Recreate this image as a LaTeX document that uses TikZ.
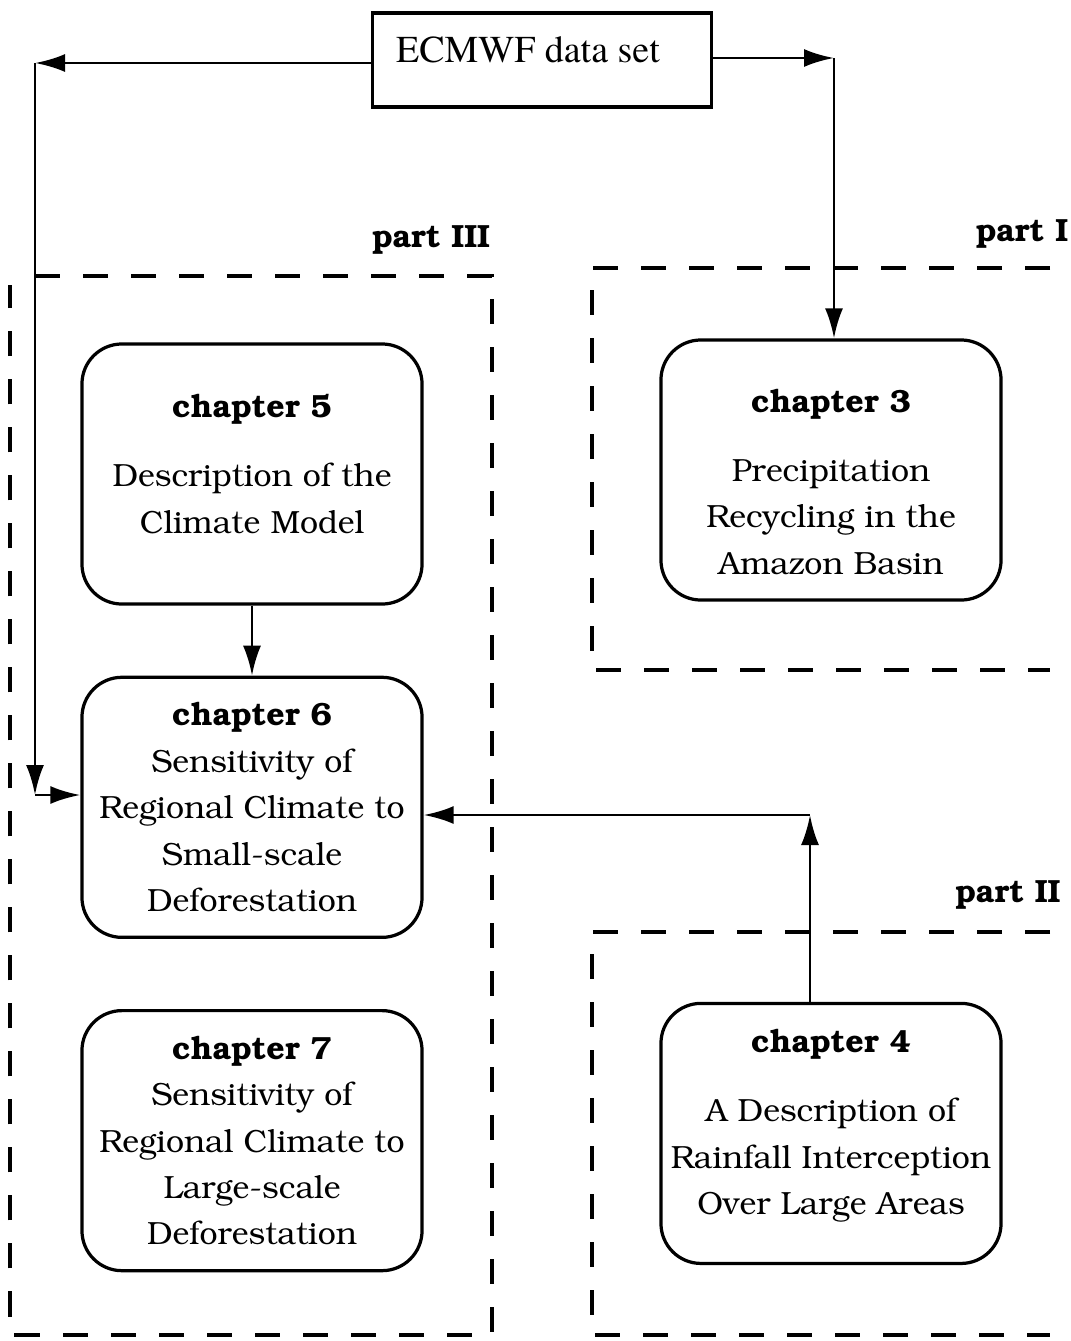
\documentclass[tikz,border=0pt]{standalone}
\usepackage[T1]{fontenc}
\usepackage{bookman}
\usetikzlibrary{positioning,arrows.meta}
\tikzstyle{every node}=[font=\fontsize{22.8}{33}\selectfont]
\tikzstyle{block} = [rectangle, rounded corners=1cm, minimum width=8.5cm, minimum height=6.5cm, align=center, draw=black, line width=2.3pt]
\tikzstyle{databox} = [rectangle, draw=black, line width=2.2pt, minimum width=8.475cm, text height=1.225cm, text depth=1.125cm, inner sep=0pt, font=\fontfamily{ptm}\fontsize{27}{30}\selectfont]
\tikzstyle{arrow} = [line width=2.1pt,-{Latex[length=0.75cm,width=0.45cm]}]
\tikzstyle{part} = [line width=2.3pt, dash pattern=on 0.625cm off 0.575cm]
\tikzstyle{partlabel} = [font=\fontsize{22.8}{26}\selectfont\bfseries]

\begin{document}
\begin{tikzpicture}[x=0.025cm,y=-0.025cm]
\useasboundingbox (0,0) rectangle (1071,1341);

\node (ecmwf) [databox] at (542,60) {ECMWF data set\makebox[0.7cm]{}};

\node (ch5) [block] at (252,474) {\textbf{chapter 5}\\[16pt]Description of the\\Climate Model\rule[-14pt]{0pt}{0pt}};
\node (ch6) [block, below=1.75cm of ch5] {\textbf{chapter 6}\\Sensitivity of\\Regional Climate to\\Small-scale\\Deforestation};
\node (ch7) [block, below=1.75cm of ch6] {\textbf{chapter 7}\\Sensitivity of\\Regional Climate to\\Large-scale\\Deforestation};

\node (ch3) [block] at (831,470) {\rule{0pt}{33pt}\textbf{chapter 3}\\[16pt]Precipitation\\Recycling in the\\Amazon Basin};
\node (ch4) [block, below=10cm of ch3] {\textbf{chapter 4}\\[16pt]A Description of\\Rainfall Interception\\Over Large Areas\rule[-16pt]{0pt}{0pt}};

% dashed frames of the three parts
\draw [part] (35,276) -- (492,276) -- (492,1335) -- (10,1335) -- (10,285);
\draw [part] (1050,268) -- (592,268) -- (592,670) -- (1050,670);
\draw [part] (1050,932) -- (592,932) -- (592,1335) -- (1050,1335);

\node (p3) [partlabel] at (431,240) {part III};
\node (p1) [partlabel] at (1022,234) {part I};
\node (p2) [partlabel] at (1008,895) {part II};

\coordinate (tl) at (35,63);
\coordinate (bl) at (35,795);
\coordinate (tr) at (834,58);
\coordinate (br) at (810,815);

\draw [arrow] (ecmwf.west |- tl) -- (tl);
\draw [arrow] (tl) -- (bl);
\draw [arrow] (bl) -- (bl -| ch6.west);
\draw [arrow] (ecmwf.east |- tr) -- (tr);
\draw [arrow] (tr) -- (tr |- ch3.north);
\draw [arrow] (ch5) -- (ch6);
\draw [arrow] (br |- ch4.north) -- (br);
\draw [arrow] (br) -- (br -| ch6.east);

\end{tikzpicture}
\end{document}
